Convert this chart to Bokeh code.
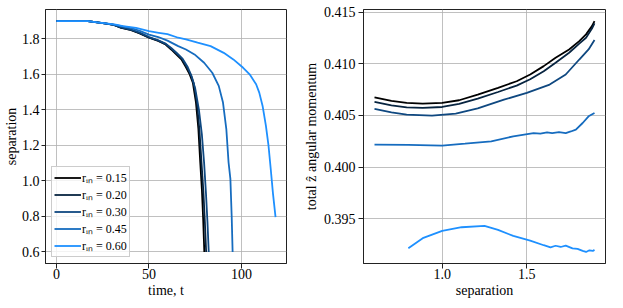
from bokeh.plotting import figure
from bokeh.layouts import row
from bokeh.models import FixedTicker, Range1d, Legend, PrintfTickFormatter
from bokeh.embed import file_html
from bokeh.resources import INLINE

# ---------------- data ----------------
R_IN = ["0.15", "0.20", "0.30", "0.45", "0.60"]
COLORS = ["#000000", "#072440", "#0f4880", "#166cbf", "#1e90ff"]

T15 = [0, 10, 17, 22, 27, 31, 35, 40, 45, 50, 55, 59, 62, 65, 67.5, 70, 72, 73.7, 75.4, 76.7, 77.7, 78.6, 79.3, 79.9]
S15 = [1.9, 1.9, 1.9, 1.893, 1.885, 1.878, 1.862, 1.85, 1.83, 1.806, 1.788, 1.768, 1.74, 1.71, 1.684, 1.64, 1.6, 1.553, 1.441, 1.292, 1.105, 0.95, 0.78, 0.6]
T20 = [0, 10, 17, 22, 27, 31, 35, 40, 45, 50, 55, 59, 62, 65, 67.8, 70.4, 72.5, 74.2, 76.0, 77.3, 78.4, 79.4, 80.2, 80.9]
S20 = [1.9, 1.9, 1.9, 1.893, 1.885, 1.878, 1.863, 1.851, 1.832, 1.808, 1.79, 1.77, 1.744, 1.715, 1.687, 1.64, 1.6, 1.55, 1.43, 1.28, 1.1, 0.94, 0.77, 0.6]
T30 = [0, 10, 17, 22, 27, 31, 35, 40, 45, 50, 55, 59, 62, 65, 68, 71, 73, 75, 77, 78.6, 79.8, 80.8, 81.6, 82.3]
S30 = [1.9, 1.9, 1.9, 1.893, 1.885, 1.878, 1.864, 1.853, 1.835, 1.81, 1.792, 1.773, 1.748, 1.72, 1.69, 1.64, 1.59, 1.52, 1.4, 1.26, 1.1, 0.93, 0.77, 0.6]
T45 = [0, 10, 17, 22, 27, 31, 35, 40, 45, 50, 55, 60, 65.8, 70, 74.6, 79.8, 84.2, 87.7, 90, 91.8, 93, 94, 94.7, 95.2]
S45 = [1.9, 1.9, 1.9, 1.893, 1.886, 1.88, 1.872, 1.862, 1.845, 1.824, 1.81, 1.79, 1.759, 1.74, 1.712, 1.665, 1.609, 1.535, 1.441, 1.292, 1.105, 1.011, 0.8, 0.6]
T60 = [0, 10, 17, 22, 27, 32, 36, 43, 50, 55.3, 60, 65.8, 70, 76.3, 83.3, 90.4, 95.6, 100.9, 104.4, 107.9, 109.6, 111.4, 113.2, 114.6, 115.8, 117, 118.4]
S60 = [1.9, 1.9, 1.9, 1.893, 1.887, 1.88, 1.872, 1.862, 1.843, 1.834, 1.826, 1.806, 1.797, 1.778, 1.759, 1.721, 1.684, 1.637, 1.6, 1.544, 1.497, 1.422, 1.31, 1.198, 1.067, 0.93, 0.796]

SEP15 = [0.6, 0.7, 0.79, 0.885, 1.0, 1.1, 1.21, 1.33, 1.44, 1.52, 1.6, 1.67, 1.75, 1.81, 1.85, 1.885, 1.9]
L15 = [0.40676, 0.40640, 0.40621, 0.40615, 0.40621, 0.40647, 0.40702, 0.40767, 0.40831, 0.40896, 0.40977, 0.41057, 0.41138, 0.41219, 0.41284, 0.41364, 0.41413]
SEP20 = [0.6, 0.7, 0.79, 0.885, 1.0, 1.1, 1.21, 1.33, 1.44, 1.52, 1.6, 1.67, 1.75, 1.81, 1.85, 1.885, 1.9]
L20 = [0.40631, 0.40598, 0.40578, 0.40573, 0.40582, 0.40612, 0.40663, 0.40727, 0.40789, 0.40850, 0.40928, 0.41010, 0.41106, 0.41195, 0.41251, 0.41340, 0.41390]
SEP30 = [0.6, 0.7, 0.79, 0.94, 1.08, 1.21, 1.365, 1.5, 1.635, 1.73, 1.81, 1.865, 1.9]
L30 = [0.40563, 0.40530, 0.40508, 0.40498, 0.40518, 0.40568, 0.40653, 0.40718, 0.40799, 0.40896, 0.41041, 0.41138, 0.41229]
SEP45 = [0.6, 0.8, 1.0, 1.135, 1.29, 1.42, 1.54, 1.58, 1.62, 1.65, 1.69, 1.73, 1.76, 1.79, 1.83, 1.865, 1.9]
L45 = [0.40217, 0.40215, 0.40208, 0.40227, 0.40250, 0.40298, 0.40330, 0.40325, 0.40337, 0.40330, 0.40338, 0.40330, 0.40345, 0.40363, 0.40427, 0.40492, 0.40524]
SEP60 = [0.8, 0.885, 1.0, 1.115, 1.25, 1.33, 1.42, 1.52, 1.6, 1.64, 1.67, 1.7, 1.73, 1.77, 1.8, 1.83, 1.85, 1.87, 1.89, 1.9]
L60 = [0.39216, 0.39313, 0.39384, 0.39419, 0.39432, 0.39393, 0.39335, 0.39290, 0.39245, 0.39225, 0.39240, 0.39228, 0.39242, 0.39215, 0.39210, 0.39190, 0.39180, 0.39196, 0.39190, 0.39200]

LEFT_X_TICKS = [0, 50, 100]
LEFT_Y_TICKS = [0.6, 0.8, 1.0, 1.2, 1.4, 1.6, 1.8]
RIGHT_X_TICKS = [1.0, 1.5]
RIGHT_Y_TICKS = [0.395, 0.400, 0.405, 0.410, 0.415]

TIMES = [T15, T20, T30, T45, T60]
SEPS = [S15, S20, S30, S45, S60]
RSEPS = [SEP15, SEP20, SEP30, SEP45, SEP60]
LZ = [L15, L20, L30, L45, L60]

FONT = "Liberation Serif"
FS = "14px"


def padded(vals_lists, frac=0.05):
    lo = min(min(v) for v in vals_lists)
    hi = max(max(v) for v in vals_lists)
    d = (hi - lo) * frac
    return Range1d(lo - d, hi + d)


def style(p, xt, yt, xfmt, yfmt):
    p.xaxis.ticker = FixedTicker(ticks=xt)
    p.yaxis.ticker = FixedTicker(ticks=yt)
    p.xaxis.formatter = PrintfTickFormatter(format=xfmt)
    p.yaxis.formatter = PrintfTickFormatter(format=yfmt)
    for ax in (p.xaxis[0], p.yaxis[0]):
        ax.major_label_text_font = FONT
        ax.major_label_text_font_size = FS
        ax.major_label_text_color = "black"
        ax.axis_label_text_font = FONT
        ax.axis_label_text_font_size = FS
        ax.axis_label_text_font_style = "normal"
        ax.axis_label_text_color = "black"
        ax.minor_tick_line_color = None
        ax.major_tick_in = 0
        ax.major_tick_line_color = "#222222"
        ax.axis_line_color = "#222222"
    p.xaxis.major_tick_out = 5
    p.xaxis.major_label_standoff = 0
    p.xaxis.axis_label_standoff = 1
    p.grid.grid_line_color = "#b0b0b0"
    p.grid.grid_line_alpha = 0.8
    p.grid.grid_line_width = 1
    p.outline_line_color = "#222222"
    p.outline_line_alpha = 1
    p.outline_line_width = 1
    p.background_fill_color = "white"
    p.border_fill_color = "white"


p1 = figure(width=300, height=300, output_backend="svg", toolbar_location=None,
            x_range=padded(TIMES), y_range=padded(SEPS),
            min_border_left=40, min_border_right=14, min_border_top=6, min_border_bottom=0)
p1.xaxis.axis_label = "time, t"
p1.yaxis.axis_label = "separation"
style(p1, LEFT_X_TICKS, LEFT_Y_TICKS, "%d", "%.1f")
p1.yaxis.major_tick_out = 4
p1.yaxis.major_label_standoff = 2
p1.yaxis.axis_label_standoff = 0

items = []
for r, c, t, s in zip(R_IN, COLORS, TIMES, SEPS):
    rr = p1.line(t, s, line_color=c, line_width=1.8)
    items.append(("r\u1d62\u2099 = " + r, [rr]))

legend = Legend(items=items, location="bottom_left")
legend.label_text_font = FONT
legend.label_text_font_size = "12px"
legend.label_text_color = "black"
legend.label_standoff = 1
legend.label_height = 11
legend.glyph_height = 11
legend.glyph_width = 27
legend.spacing = 0
legend.padding = 2
legend.margin = 6
legend.border_line_color = "#cccccc"
legend.border_line_alpha = 1
legend.background_fill_alpha = 0.8
p1.add_layout(legend)

p2 = figure(width=307, height=300, output_backend="svg", toolbar_location=None,
            x_range=padded(RSEPS), y_range=padded(LZ),
            min_border_left=59, min_border_right=2, min_border_top=9, min_border_bottom=0)
p2.xaxis.axis_label = "separation"
p2.yaxis.axis_label = "total \u1e91 angular momentum"
style(p2, RIGHT_X_TICKS, RIGHT_Y_TICKS, "%.1f", "%.3f")
p2.yaxis.major_tick_out = 5
p2.yaxis.major_label_standoff = 3
p2.yaxis.axis_label_standoff = 2

for c, x, y in zip(COLORS, RSEPS, LZ):
    p2.line(x, y, line_color=c, line_width=1.8)

layout = row(p1, p2)
open("out.html", "w").write(file_html(layout, INLINE))
